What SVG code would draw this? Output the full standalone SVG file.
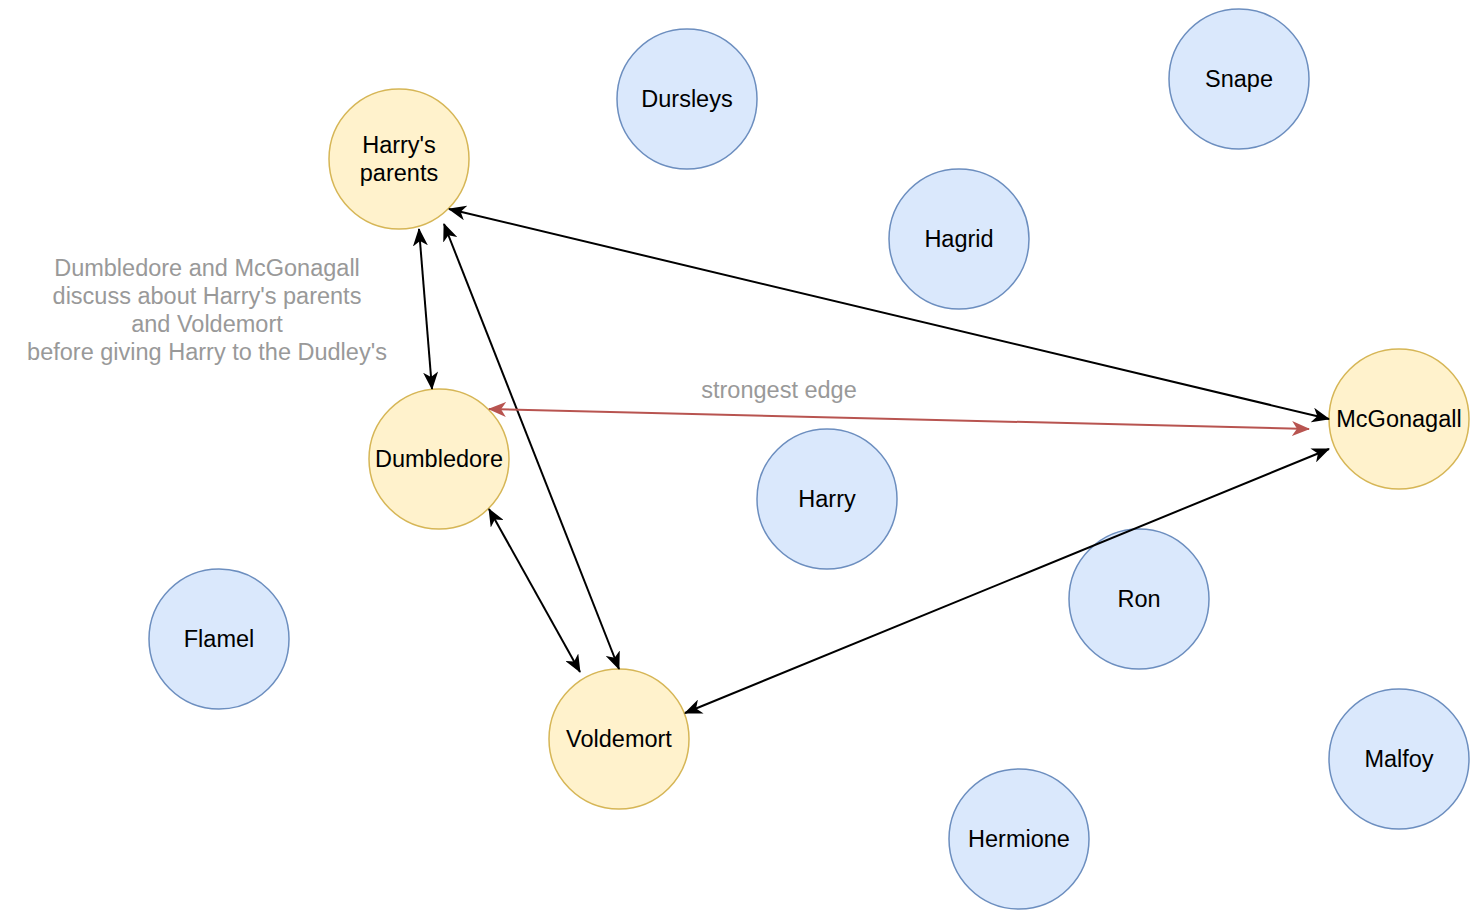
<svg xmlns="http://www.w3.org/2000/svg" width="1484" height="924" viewBox="0 0 1484 924">
<style>
.y{fill:#fff2cc;stroke:#d6b656;stroke-width:1.5}
.b{fill:#dae8fc;stroke:#6c8ebf;stroke-width:1.5}
.t{font-family:"Liberation Sans",Arial,sans-serif;font-size:23.5px;fill:#000;text-anchor:middle;dominant-baseline:central}
.g{font-family:"Liberation Sans",Arial,sans-serif;font-size:23.5px;fill:#999999;text-anchor:middle;dominant-baseline:central}
.e{fill:none;stroke:#000;stroke-width:2}
.r{fill:none;stroke:#b85450;stroke-width:2}
</style>
<defs>
<marker id="ak" viewBox="0 0 18 15" refX="17" refY="7.5" markerWidth="18" markerHeight="15" markerUnits="userSpaceOnUse" orient="auto-start-reverse"><path d="M0,0 L18,7.5 L0,15 L5,7.5 Z" fill="#000"/></marker>
<marker id="ar" viewBox="0 0 18 15" refX="17" refY="7.5" markerWidth="18" markerHeight="15" markerUnits="userSpaceOnUse" orient="auto-start-reverse"><path d="M0,0 L18,7.5 L0,15 L5,7.5 Z" fill="#b85450"/></marker>
</defs>
<rect width="1484" height="924" fill="#fff"/>
<g id="harrys-parents"><circle class="y" cx="399" cy="159" r="70"/><text class="t" x="399" y="145">Harry's</text><text class="t" x="399" y="173">parents</text></g>
<g id="dursleys"><circle class="b" cx="687" cy="99" r="70"/><text class="t" x="687" y="99">Dursleys</text></g>
<g id="snape"><circle class="b" cx="1239" cy="79" r="70"/><text class="t" x="1239" y="79">Snape</text></g>
<g id="hagrid"><circle class="b" cx="959" cy="239" r="70"/><text class="t" x="959" y="239">Hagrid</text></g>
<g id="mcgonagall"><circle class="y" cx="1399" cy="419" r="70"/><text class="t" x="1399" y="419">McGonagall</text></g>
<g id="dumbledore"><circle class="y" cx="439" cy="459" r="70"/><text class="t" x="439" y="459">Dumbledore</text></g>
<g id="harry"><circle class="b" cx="827" cy="499" r="70"/><text class="t" x="827" y="499">Harry</text></g>
<g id="ron"><circle class="b" cx="1139" cy="599" r="70"/><text class="t" x="1139" y="599">Ron</text></g>
<g id="flamel"><circle class="b" cx="219" cy="639" r="70"/><text class="t" x="219" y="639">Flamel</text></g>
<g id="voldemort"><circle class="y" cx="619" cy="739" r="70"/><text class="t" x="619" y="739">Voldemort</text></g>
<g id="malfoy"><circle class="b" cx="1399" cy="759" r="70"/><text class="t" x="1399" y="759">Malfoy</text></g>
<g id="hermione"><circle class="b" cx="1019" cy="839" r="70"/><text class="t" x="1019" y="839">Hermione</text></g>
<g id="connectors">
<line class="e" x1="449" y1="209" x2="1329" y2="419" marker-start="url(#ak)" marker-end="url(#ak)"/>
<line class="e" x1="419" y1="229" x2="432" y2="389" marker-start="url(#ak)" marker-end="url(#ak)"/>
<line class="e" x1="444" y1="224" x2="619" y2="669" marker-start="url(#ak)" marker-end="url(#ak)"/>
<line class="e" x1="489" y1="509" x2="580" y2="672" marker-start="url(#ak)" marker-end="url(#ak)"/>
<line class="e" x1="685" y1="713" x2="1329" y2="449" marker-start="url(#ak)" marker-end="url(#ak)"/>
<line class="r" x1="489" y1="409" x2="1309" y2="429" marker-start="url(#ar)" marker-end="url(#ar)"/>
</g>
<g id="label-strongest"><text class="g" x="779" y="390">strongest edge</text></g>
<g id="note">
<text class="g" x="207" y="268">Dumbledore and McGonagall</text>
<text class="g" x="207" y="296">discuss about Harry's parents</text>
<text class="g" x="207" y="324">and Voldemort</text>
<text class="g" x="207" y="352">before giving Harry to the Dudley's</text>
</g>
</svg>
